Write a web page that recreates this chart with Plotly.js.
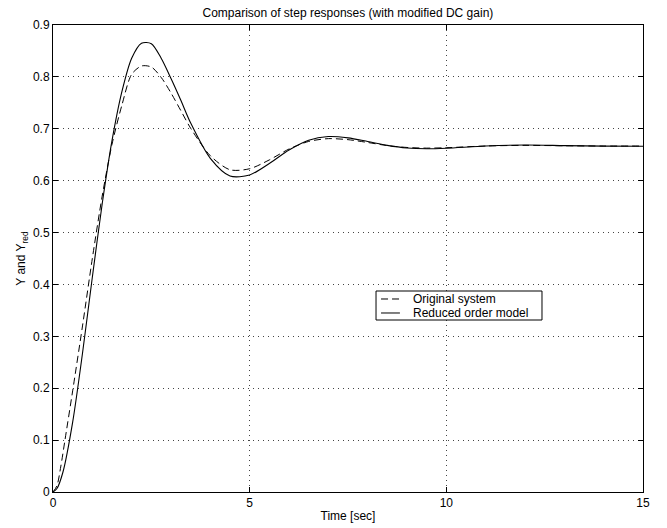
<!DOCTYPE html>
<html>
<head>
<meta charset="utf-8">
<script src="https://cdn.plot.ly/plotly-3.0.1.min.js"></script>
<style>html,body{margin:0;padding:0;background:#fff;}#chart{width:667px;height:528px;}</style>
</head>
<body>
<div id="chart"></div>
<script>
// Original system (dashed)
var tOrig = [0, 0.1, 0.2, 0.3, 0.5, 0.75, 1, 1.25, 1.5, 1.75, 2, 2.25, 2.5, 2.75, 3, 3.25, 3.5, 4, 4.5, 5, 5.5, 6, 6.5, 7, 7.5, 8, 8.5, 9, 9.5, 10, 11, 12, 13, 14, 15];
var yOrig = [0, 0.012, 0.05, 0.098, 0.195, 0.32, 0.45, 0.57, 0.67, 0.745, 0.805, 0.821, 0.819, 0.799, 0.769, 0.735, 0.701, 0.648, 0.621, 0.623, 0.640, 0.661, 0.6756, 0.681, 0.679, 0.6736, 0.6676, 0.664, 0.6627, 0.6635, 0.6668, 0.668, 0.6673, 0.6667, 0.6667];
// Reduced order model (solid)
var tRed = [0, 0.1, 0.25, 0.5, 0.75, 1, 1.25, 1.5, 1.75, 2, 2.25, 2.5, 2.75, 3, 3.25, 3.5, 4, 4.5, 5, 5.5, 6, 6.5, 7, 7.5, 8, 8.5, 9, 9.5, 10, 11, 12, 13, 14, 15];
var yRed = [0, 0.0067, 0.0376, 0.1348, 0.2674, 0.4138, 0.555, 0.677, 0.771, 0.836, 0.865, 0.864, 0.836, 0.797, 0.755, 0.711, 0.643, 0.609, 0.611, 0.633, 0.659, 0.678, 0.685, 0.6825, 0.6755, 0.668, 0.663, 0.6615, 0.6625, 0.6667, 0.6687, 0.6676, 0.6665, 0.6664];

var seriesNames = ["Original system", "Reduced order model"];
var xTicks = [0, 5, 10, 15];
var yTicks = [0, 0.1, 0.2, 0.3, 0.4, 0.5, 0.6, 0.7, 0.8, 0.9];
var yTickText = ["0", "0.1", "0.2", "0.3", "0.4", "0.5", "0.6", "0.7", "0.8", "0.9"];

var FONT = "Liberation Sans, Arial, Helvetica, sans-serif";

var traces = [
  {x: tOrig, y: yOrig, name: seriesNames[0], mode: "lines", showlegend: false,
   line: {color: "#000", width: 1, dash: "7px,4px", shape: "spline", smoothing: 0.8}},
  {x: tRed, y: yRed, name: seriesNames[1], mode: "lines", showlegend: false,
   line: {color: "#000", width: 1.1, shape: "spline", smoothing: 0.8}}
];

// legend geometry (paper coords)
var lx0 = 0.5475, lx1 = 0.8288, ly0 = 0.3683, ly1 = 0.4304;
var row1 = 0.4133, row2 = 0.3833;
var sx0 = 0.556, sx1 = 0.588, tx = 0.606;

var layout = {
  width: 667, height: 528,
  margin: {l: 53, r: 24, t: 25, b: 36},
  paper_bgcolor: "#fff", plot_bgcolor: "#fff",
  font: {family: FONT, size: 12, color: "#000"},
  showlegend: false,
  title: {text: "Comparison of step responses (with modified DC gain)",
          font: {family: FONT, size: 12, color: "#000"},
          x: 0.5216, xanchor: "center", y: 0.975, yanchor: "middle"},
  xaxis: {
    range: [0, 15], tickvals: xTicks, ticktext: xTicks.map(String),
    ticks: "inside", ticklen: 5, tickcolor: "#000", tickwidth: 1,
    showline: true, linecolor: "#000", linewidth: 1, mirror: "ticks",
    showgrid: true, gridcolor: "#444", griddash: "1px,4px", gridwidth: 1,
    zeroline: false, automargin: false,
    tickfont: {family: FONT, size: 12, color: "#000"},
    title: {text: "Time [sec]", font: {family: FONT, size: 12, color: "#000"}, standoff: 2}
  },
  yaxis: {
    range: [0, 0.9], tickvals: yTicks, ticktext: yTickText,
    ticks: "inside", ticklen: 5, tickcolor: "#000", tickwidth: 1,
    showline: true, linecolor: "#000", linewidth: 1, mirror: "ticks",
    showgrid: true, gridcolor: "#444", griddash: "1px,4px", gridwidth: 1,
    zeroline: false, automargin: false,
    tickfont: {family: FONT, size: 12, color: "#000"},
    title: {text: "Y and Y<sub>red</sub>", font: {family: FONT, size: 12, color: "#000"}, standoff: 4}
  },
  shapes: [
    {type: "rect", xref: "paper", yref: "paper", x0: lx0, x1: lx1, y0: ly0, y1: ly1,
     line: {color: "#000", width: 1}, fillcolor: "#fff", layer: "above"},
    {type: "line", xref: "paper", yref: "paper", x0: sx0, x1: sx1, y0: row1, y1: row1,
     line: {color: "#000", width: 1, dash: "7px,4px"}},
    {type: "line", xref: "paper", yref: "paper", x0: sx0, x1: sx1, y0: row2, y1: row2,
     line: {color: "#000", width: 1}}
  ],
  annotations: [
    {xref: "paper", yref: "paper", x: tx, y: row1, xanchor: "left", yanchor: "middle",
     text: seriesNames[0], showarrow: false, font: {family: FONT, size: 12, color: "#000"}},
    {xref: "paper", yref: "paper", x: tx, y: row2, xanchor: "left", yanchor: "middle",
     text: seriesNames[1], showarrow: false, font: {family: FONT, size: 12, color: "#000"}}
  ]
};

Plotly.newPlot("chart", traces, layout, {displayModeBar: false, staticPlot: true});
</script>
</body>
</html>
